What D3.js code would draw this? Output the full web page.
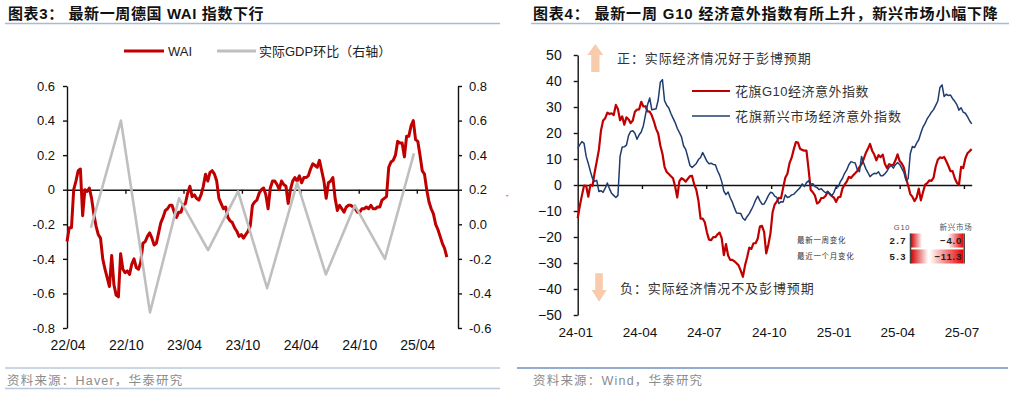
<!DOCTYPE html>
<html><head><meta charset="utf-8">
<script src="https://cdn.jsdelivr.net/npm/d3@7"></script>
<style>
html,body{margin:0;padding:0;background:#fff;}
svg{display:block;}
text{font-family:"Liberation Sans",Arial,"Noto Sans CJK SC",sans-serif;}
</style></head><body>
<svg id="c" width="1015" height="395"></svg>
<script>
// ---------------- DATA ----------------
// Chart 3: Germany weekly activity index (weekly, from 2022-04-01)
const waiStart = "2022-04-01";
const waiValues = [-0.30,-0.22,-0.22,0.00,0.05,0.11,0.12,-0.15,0.00,-0.01,
0.01,-0.05,-0.14,-0.21,-0.26,-0.28,-0.40,-0.46,-0.51,-0.56,
-0.38,-0.55,-0.61,-0.62,-0.37,-0.46,-0.48,-0.47,-0.49,-0.43,
-0.40,-0.45,-0.46,-0.42,-0.31,-0.30,-0.27,-0.25,-0.28,-0.32,
-0.31,-0.25,-0.19,-0.16,-0.12,-0.11,-0.09,-0.09,-0.13,-0.16,
-0.13,-0.13,-0.09,-0.08,-0.02,0.02,-0.04,-0.03,-0.05,-0.06,
-0.03,0.02,0.09,0.05,0.10,0.11,0.09,0.05,-0.05,-0.08,
-0.11,-0.10,-0.16,-0.18,-0.19,-0.22,-0.24,-0.27,-0.26,-0.28,
-0.26,-0.24,-0.21,-0.09,-0.07,-0.06,-0.02,0.00,0.01,-0.03,
-0.11,0.01,0.05,0.05,0.03,0.00,0.05,0.03,0.02,-0.08,
0.00,0.05,0.07,0.05,0.08,0.04,0.07,0.07,0.08,0.12,
0.15,0.14,0.13,0.17,0.11,0.05,-0.05,0.04,0.05,0.07,
-0.05,-0.12,-0.09,-0.11,-0.13,-0.10,-0.09,-0.09,-0.10,-0.11,
-0.13,-0.13,-0.11,-0.11,-0.10,-0.11,-0.09,-0.11,-0.11,-0.10,
-0.10,-0.06,-0.05,-0.04,0.13,0.16,0.17,0.20,0.28,0.27,
0.27,0.19,0.31,0.31,0.37,0.40,0.29,0.28,0.20,0.11,
0.09,0.00,-0.07,-0.11,-0.14,-0.20,-0.23,-0.27,-0.31,-0.34,-0.39];
// Real GDP q/q (right axis)
const gdpDates = ["2022-06-15","2022-09-17","2022-12-17","2023-03-18","2023-06-17","2023-09-19",
"2023-12-19","2024-03-22","2024-06-20","2024-09-19","2024-12-22","2025-03-23"];
const gdpValues = [-0.02,0.60,-0.51,0.15,-0.15,0.19,-0.37,0.24,-0.29,0.11,-0.20,0.41];
const leftXTicks = ["2022-04-01","2022-10-01","2023-04-01","2023-10-01","2024-04-01","2024-10-01","2025-04-01"];
const leftXLabels = ["22/04","22/10","23/04","23/10","24/04","24/10","25/04"];
const leftYTicks = [0.6,0.4,0.2,0,-0.2,-0.4,-0.6,-0.8];
const leftYLabels = ["0.6","0.4","0.2","0","-0.2","-0.4","-0.6","-0.8"];
const rightYTicks = [0.8,0.6,0.4,0.2,0,-0.2,-0.4,-0.6];
const rightYLabels = ["0.8","0.6","0.4","0.2","0.0","-0.2","-0.4","-0.6"];

// Chart 4: Citi economic surprise indices (sampled every 3 days from 2024-01-01)
const citiStart = "2024-01-01";
const g10Values = [-12.8,-8,-4,-0.2,-0.3,-4.5,0.1,-0.3,4.8,9.1,
13.5,21,24.8,25.7,27.8,27.3,27.6,26.9,30.8,29.2,
24.9,26.4,23.2,26,25.3,23.8,24.8,28.2,29,29.1,
32,30.2,30.3,28.3,28.2,26.7,24.4,21.6,19.8,15.2,
12,7,5,4.2,3.4,2.6,-0.6,-4.8,1.5,2.6,
2.1,1.3,2.4,3.4,3.5,0.2,-1.9,-6,-12.9,-12.9,
-14.3,-18.2,-21,-21.2,-20,-20.1,-19,-18.3,-20.5,-27,
-22.7,-27.1,-28.8,-28.8,-29.4,-30.1,-31,-33,-35.3,-30.9,
-27.8,-24.1,-24.6,-22.4,-22.4,-20.6,-16,-15.7,-18,-26.3,
-23,-18.6,-10.5,-7.5,-6.4,-4.9,-5.1,-1,2.8,4.3,
8.4,10.5,13.7,16.5,16.3,13.9,13.5,13.2,13.2,6,
-1.9,-2.8,-4.1,-7.1,-6.6,-5,-5,-4.2,-2.6,-3.5,
-4.3,-4.9,-6.5,-4.7,-4.6,-1.3,0.1,1.3,3.1,2.7,
3.7,4.5,5.4,6.9,8,10,12.3,13.9,15.8,13.2,
11.7,9.5,11.5,10.7,11.7,8.2,6.5,8,7.8,7.7,
9.5,11.8,9.2,8.3,6.6,2.6,-0.2,-3.5,-4.5,-6.2,
-4.8,-1.4,-5.9,-2.8,0.1,0.7,1.8,1.6,2.8,7.1,
9.7,10.6,10.4,10.8,9.1,7.3,5.3,5.3,2.6,0.9,
0,7,6.5,10.2,12.2,13,13.8];
const emValues = [14.1,15.5,16.7,16,11,8.3,5.2,2.5,1.4,1.8,
-2.5,-2.2,-2.8,-1.2,0.8,-1.4,-3.2,-4,-4.8,-4,
11,14.6,14.7,15.3,19,20.6,20.9,19.9,17.6,19.3,
20.4,22.8,27,31,33.5,28.9,29.1,29.3,32.7,39.5,
40.5,32.4,30.7,29.6,27.5,25.7,24,21.8,20.2,18.5,
15,13.7,10.7,7.5,6.7,7.5,8.3,9.8,10.6,12.5,
10.8,9.1,8.2,8.4,7.9,7.8,5.5,3.8,1.3,-2.4,
-3.7,-2.7,-4.9,-6.6,-8.8,-10.8,-10.9,-11,-12.8,-13.5,
-12.1,-11,-9.5,-7.8,-5.8,-4.3,-6,-7.4,-7.3,-5.8,
-4.1,-2.8,-3.1,-4.3,-4.8,-7.1,-6.4,-6.5,-3.8,-4.8,
-4.5,-3.8,-3.6,-2.7,-1.8,-1,0.4,-0.6,0.9,1.6,
0.3,0.5,-0.6,-1,-1.8,-1.4,-2.3,-3,-2.6,-3.4,
-4.1,-2.8,-0.7,-0.7,1.3,2.6,4.5,5.8,7.8,9,
8.7,8.5,6,5.1,11,8.5,6.3,4.8,3.2,4,
4.5,4.3,5.1,3.6,3.6,4.3,5.3,6.8,7.5,6.5,
7.8,8.6,7.9,6.4,4.8,1.8,2.4,12,14.8,14.4,
16.1,17.4,20,22.3,23.7,25.5,26.7,28,29,30.6,
32.3,37.5,38.5,34,34.9,34.4,34.6,33.2,32.2,30.9,
28.8,29.7,28,27.6,26.3,24.7,23.5];
const citiXTicks = ["2024-01-01","2024-04-01","2024-07-01","2024-10-01","2025-01-01","2025-04-01","2025-07-01"];
const citiXLabels = ["24-01","24-04","24-07","24-10","25-01","25-04","25-07"];
const citiYTicks = [50,40,30,20,10,0,-10,-20,-30,-40,-50];
const tableRowNames = ["最新一周变化","最近一个月变化"];
const tableColNames = ["G10","新兴市场"];
const tableG10 = [2.7,5.3];
const tableEM = [-4.0,-11.3];

// ---------------- DRAW ----------------
const parse = d3.timeParse("%Y-%m-%d");
const svg = d3.select("#c");
const CJK = '"Noto Sans CJK SC","Liberation Sans",sans-serif';
const RED = "#c00000", GREY = "#bfbfbf", NAVY = "#1f3c6e";

// Titles & rules
svg.append("text").attr("x",8).attr("y",13.5).attr("dominant-baseline","central")
  .attr("font-family",CJK).attr("font-weight","bold").attr("font-size",15).attr("fill","#111")
  .attr("letter-spacing",0.6)
  .text("图表3：  最新一周德国 WAI 指数下行");
svg.append("text").attr("x",533).attr("y",13.5).attr("dominant-baseline","central")
  .attr("font-family",CJK).attr("font-weight","bold").attr("font-size",15).attr("fill","#111")
  .attr("letter-spacing",0.8)
  .text("图表4：  最新一周 G10 经济意外指数有所上升，新兴市场小幅下降");
const rule = (x1,x2,y,w,c)=>svg.append("line").attr("x1",x1).attr("x2",x2).attr("y1",y).attr("y2",y).attr("stroke",c).attr("stroke-width",w);
rule(5,500,23.5,1.5,"#a9bbd3");
rule(531,1009,23.5,1.5,"#a9bbd3");
rule(5,500,368,1.5,"#b9c8db");
rule(5,500,388.5,1.5,"#b9c8db");
rule(517,1008,368,2,"#93acd0");
svg.append("text").attr("x",7).attr("y",380.5).attr("dominant-baseline","central")
  .attr("font-family",CJK).attr("font-size",12.5).attr("letter-spacing",1.2).attr("fill","#8c8c8c")
  .text("资料来源：Haver，华泰研究");
svg.append("text").attr("x",533).attr("y",380.5).attr("dominant-baseline","central")
  .attr("font-family",CJK).attr("font-size",12.5).attr("letter-spacing",1.2).attr("fill","#8c8c8c")
  .text("资料来源：Wind，华泰研究");

// ---- Left chart ----
const xL = d3.scaleTime().domain([parse("2022-04-01"), parse("2025-08-08")]).range([67,458]);
const yL = d3.scaleLinear().domain([-0.8,0.6]).range([328,86]);
const yR = d3.scaleLinear().domain([-0.6,0.8]).range([328,86]);

function styleAxis(g, fs){
  g.select(".domain").attr("stroke","#111").attr("stroke-width",1.4);
  g.selectAll(".tick line").attr("stroke","#111").attr("stroke-width",1.4);
  g.selectAll(".tick text").attr("font-size",fs).attr("fill","#111").attr("font-family","Liberation Sans, Arial, sans-serif");
}
svg.append("g").attr("transform","translate(67,0)")
  .call(d3.axisLeft(yL).tickValues(leftYTicks).tickSize(4).tickSizeOuter(0).tickPadding(8).tickFormat((d,i)=>leftYLabels[i]))
  .call(g=>styleAxis(g,13));
svg.append("g").attr("transform","translate(458,0)")
  .call(d3.axisRight(yR).tickValues(rightYTicks).tickSize(4).tickSizeOuter(0).tickPadding(7).tickFormat((d,i)=>rightYLabels[i]))
  .call(g=>styleAxis(g,13));
svg.append("g").attr("transform",`translate(0,${yL(0)})`)
  .call(d3.axisBottom(xL).tickValues(leftXTicks.slice(1).map(parse)).tickSize(4).tickSizeOuter(0).tickFormat(""))
  .call(g=>styleAxis(g,13));
svg.append("g").selectAll("text").data(leftXTicks).join("text")
  .attr("x",d=>xL(parse(d))+1).attr("y",345).attr("text-anchor","middle").attr("dominant-baseline","central")
  .attr("font-size",14).attr("fill","#111").text((d,i)=>leftXLabels[i]);

const waiData = waiValues.map((v,i)=>({d:d3.timeDay.offset(parse(waiStart),7*i), v}));
svg.append("path").datum(waiData).attr("fill","none").attr("stroke",RED).attr("stroke-width",3)
  .attr("stroke-linejoin","round")
  .attr("d", d3.line().x(p=>xL(p.d)).y(p=>yL(p.v)));
const gdpData = gdpDates.map((d,i)=>({d:parse(d), v:gdpValues[i]}));
svg.append("path").datum(gdpData).attr("fill","none").attr("stroke",GREY).attr("stroke-width",2.6)
  .attr("stroke-linejoin","round")
  .attr("d", d3.line().x(p=>xL(p.d)).y(p=>yR(p.v)));

// legend left
svg.append("line").attr("x1",124).attr("x2",164).attr("y1",51).attr("y2",51).attr("stroke",RED).attr("stroke-width",3.2);
svg.append("text").attr("x",168).attr("y",51).attr("dominant-baseline","central").attr("font-size",13).attr("fill","#222").text("WAI");
svg.append("line").attr("x1",217).attr("x2",256).attr("y1",51).attr("y2",51).attr("stroke",GREY).attr("stroke-width",3);
svg.append("text").attr("x",259).attr("y",51).attr("dominant-baseline","central").attr("font-family",CJK).attr("font-size",13).attr("fill","#222").text("实际GDP环比（右轴）");
svg.append("text").attr("x",506).attr("y",197).attr("dominant-baseline","central").attr("font-size",7).attr("fill","#e00000").text("''");

// ---- Right chart ----
const xC = d3.scaleTime().domain([parse("2024-01-01"), parse("2025-07-12")]).range([577.7,971.7]);
const yC = d3.scaleLinear().domain([-50,50]).range([315,55]);
svg.append("g").attr("transform","translate(577.7,0)")
  .call(d3.axisLeft(yC).tickValues(citiYTicks).tickSize(4).tickSizeOuter(0).tickPadding(12).tickFormat(d3.format("d")))
  .call(g=>styleAxis(g,14));
svg.append("g").attr("transform",`translate(0,${yC(0)})`)
  .call(d3.axisBottom(xC).tickValues(citiXTicks.slice(1).map(parse)).tickSize(4).tickSizeOuter(0).tickFormat(""))
  .call(g=>styleAxis(g,13));
svg.append("g").selectAll("text").data(citiXTicks).join("text")
  .attr("x",d=>xC(parse(d))-2).attr("y",332.5).attr("text-anchor","middle").attr("dominant-baseline","central")
  .attr("font-size",13.5).attr("fill","#111").text((d,i)=>citiXLabels[i]);

const cDates = g10Values.map((v,i)=>d3.timeDay.offset(parse(citiStart),3*i));
const lineC = d3.line().x((v,i)=>xC(cDates[i])).y(v=>yC(v));
svg.append("path").datum(g10Values).attr("fill","none").attr("stroke",RED).attr("stroke-width",2.2).attr("stroke-linejoin","round").attr("d",lineC);
svg.append("path").datum(emValues).attr("fill","none").attr("stroke",NAVY).attr("stroke-width",1.5).attr("stroke-linejoin","round").attr("d",lineC);

// arrows & notes
const PEACH = "#f8cbad";
svg.append("path").attr("fill",PEACH).attr("d","M587.3,55 L595.3,44 L603.3,55 L599.5,55 L599.5,72 L591.2,72 L591.2,55 Z");
svg.append("path").attr("fill",PEACH).attr("d","M595.2,273.3 L602.8,273.3 L602.8,290 L606.7,290 L599,301.7 L591.7,290 L595.2,290 Z");
svg.append("text").attr("x",617).attr("y",58).attr("dominant-baseline","central").attr("font-family",CJK).attr("font-size",13).attr("letter-spacing",0.9).attr("fill","#333").text("正：实际经济情况好于彭博预期");
svg.append("text").attr("x",620).attr("y",288).attr("dominant-baseline","central").attr("font-family",CJK).attr("font-size",13).attr("letter-spacing",0.9).attr("fill","#333").text("负：实际经济情况不及彭博预期");

// legend right
svg.append("line").attr("x1",692).attr("x2",730).attr("y1",91).attr("y2",91).attr("stroke",RED).attr("stroke-width",2.2);
svg.append("text").attr("x",735).attr("y",91).attr("dominant-baseline","central").attr("font-family",CJK).attr("font-size",13).attr("letter-spacing",0.5).attr("fill","#333").text("花旗G10经济意外指数");
svg.append("line").attr("x1",692).attr("x2",730).attr("y1",116).attr("y2",116).attr("stroke",NAVY).attr("stroke-width",1.5);
svg.append("text").attr("x",735).attr("y",116).attr("dominant-baseline","central").attr("font-family",CJK).attr("font-size",13).attr("letter-spacing",0.9).attr("fill","#333").text("花旗新兴市场经济意外指数");

// table with data bars
const defs = svg.append("defs");
const gA = defs.append("linearGradient").attr("id","gG10").attr("x1","0").attr("x2","1");
gA.append("stop").attr("offset","0").attr("stop-color","#d10000");
gA.append("stop").attr("offset","1").attr("stop-color","#ffffff");
const gB = defs.append("linearGradient").attr("id","gEM").attr("x1","0").attr("x2","1");
gB.append("stop").attr("offset","0").attr("stop-color","#ffffff");
gB.append("stop").attr("offset","1").attr("stop-color","#e60000");
const rowY = d3.scaleBand().domain(tableRowNames).range([233.5,263.5]).paddingInner(0.12);
const g10Len = d3.scaleLinear().domain([0,5.3]).range([4.8,17.5]);
const emLen = d3.scaleLinear().domain([0,11.3]).range([6,34]);
const tb = svg.append("g");
tb.selectAll("rect.g").data(tableG10).join("rect").attr("class","g")
  .attr("x",910.7).attr("y",(d,i)=>rowY(tableRowNames[i])).attr("height",rowY.bandwidth())
  .attr("width",d=>g10Len(Math.abs(d))).attr("fill","url(#gG10)");
tb.selectAll("rect.e").data(tableEM).join("rect").attr("class","e")
  .attr("x",d=>963.5-emLen(Math.abs(d))).attr("y",(d,i)=>rowY(tableRowNames[i])).attr("height",rowY.bandwidth())
  .attr("width",d=>emLen(Math.abs(d))).attr("fill","url(#gEM)");
tb.append("line").attr("x1",910.5).attr("x2",910.5).attr("y1",233.5).attr("y2",263.5).attr("stroke","#444").attr("stroke-width",1.5);
tb.append("line").attr("x1",964.2).attr("x2",964.2).attr("y1",233.5).attr("y2",263.5).attr("stroke","#444").attr("stroke-width",1.5);
tb.selectAll("text.h").data(tableColNames).join("text").attr("class","h")
  .attr("x",(d,i)=>i===0?902:956).attr("y",227.5).attr("text-anchor","middle").attr("dominant-baseline","central")
  .attr("font-family",CJK).attr("font-size",7.5).attr("letter-spacing",0.7).attr("fill","#555").text(d=>d);
tb.selectAll("text.r").data(tableRowNames).join("text").attr("class","r")
  .attr("x",797).attr("y",d=>rowY(d)+rowY.bandwidth()/2).attr("dominant-baseline","central")
  .attr("font-family",CJK).attr("font-size",7.5).attr("letter-spacing",0.7).attr("fill","#333").text(d=>d);
tb.selectAll("text.v1").data(tableG10).join("text").attr("class","v1")
  .attr("x",907).attr("y",(d,i)=>rowY(tableRowNames[i])+rowY.bandwidth()/2).attr("text-anchor","end").attr("dominant-baseline","central")
  .attr("font-size",9.5).attr("font-weight","bold").attr("letter-spacing",1.4).attr("fill","#222").text(d=>d3.format(".1f")(d));
tb.selectAll("text.v2").data(tableEM).join("text").attr("class","v2")
  .attr("x",962).attr("y",(d,i)=>rowY(tableRowNames[i])+rowY.bandwidth()/2).attr("text-anchor","end").attr("dominant-baseline","central")
  .attr("font-size",9.5).attr("font-weight","bold").attr("letter-spacing",0.8).attr("fill","#222").text(d=>d3.format(".1f")(d));
</script>
</body></html>
